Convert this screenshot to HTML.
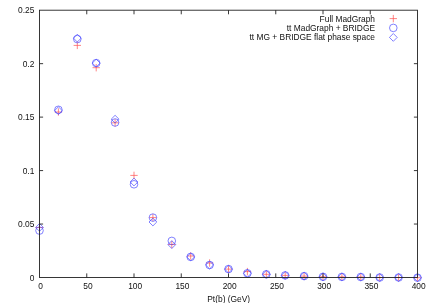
<!DOCTYPE html><html><head><meta charset="utf-8"><style>html,body{margin:0;padding:0;background:#fff;overflow:hidden}svg{display:block;position:absolute;left:0;top:0}text{font-family:"Liberation Sans",sans-serif;font-size:8.4px;fill:#111}</style></head><body>
<svg width="432" height="303" viewBox="0 0 432 303">
<rect width="432" height="303" fill="#fff"/>
<defs><filter id="tb" x="-5%" y="-5%" width="110%" height="110%"><feGaussianBlur stdDeviation="0.3"/></filter></defs><g filter="url(#tb)">
<text x="40.70" y="289.1" text-anchor="middle">0</text>
<text x="87.95" y="289.1" text-anchor="middle">50</text>
<text x="135.20" y="289.1" text-anchor="middle">100</text>
<text x="182.45" y="289.1" text-anchor="middle">150</text>
<text x="229.70" y="289.1" text-anchor="middle">200</text>
<text x="276.95" y="289.1" text-anchor="middle">250</text>
<text x="324.20" y="289.1" text-anchor="middle">300</text>
<text x="371.45" y="289.1" text-anchor="middle">350</text>
<text x="418.70" y="289.1" text-anchor="middle">400</text>
<text x="34.3" y="280.50" text-anchor="end">0</text>
<text x="34.3" y="227.04" text-anchor="end">0.05</text>
<text x="34.3" y="173.58" text-anchor="end">0.1</text>
<text x="34.3" y="120.12" text-anchor="end">0.15</text>
<text x="34.3" y="66.66" text-anchor="end">0.2</text>
<text x="34.3" y="13.20" text-anchor="end">0.25</text>
<text x="228.7" y="302.3" text-anchor="middle">Pt(b) (GeV)</text>
<text x="375" y="21.5" text-anchor="end">Full MadGraph</text>
<text x="375" y="30.6" text-anchor="end">tt MadGraph + BRIDGE</text>
<text x="375" y="39.9" text-anchor="end">tt MG + BRIDGE flat phase space</text>
</g>
<path d="M389.60 18.60h7.4M393.30 14.90v7.4M35.80 227.50h7.4M39.50 223.80v7.4M54.70 112.00h7.4M58.40 108.30v7.4M73.60 45.40h7.4M77.30 41.70v7.4M92.50 67.70h7.4M96.20 64.00v7.4M111.40 122.80h7.4M115.10 119.10v7.4M130.30 175.40h7.4M134.00 171.70v7.4M149.20 217.60h7.4M152.90 213.90v7.4M168.10 244.50h7.4M171.80 240.80v7.4M187.00 256.00h7.4M190.70 252.30v7.4M205.90 263.00h7.4M209.60 259.30v7.4M224.80 269.10h7.4M228.50 265.40v7.4M243.70 271.60h7.4M247.40 267.90v7.4M262.60 274.30h7.4M266.30 270.60v7.4M281.50 275.40h7.4M285.20 271.70v7.4M300.40 276.10h7.4M304.10 272.40v7.4M319.30 276.80h7.4M323.00 273.10v7.4M338.20 276.90h7.4M341.90 273.20v7.4M357.10 277.00h7.4M360.80 273.30v7.4M376.00 277.50h7.4M379.70 273.80v7.4M394.90 277.50h7.4M398.60 273.80v7.4M413.80 277.70h7.4M417.50 274.00v7.4" stroke="#ff5050" stroke-width="0.7" fill="none"/>
<circle cx="393.30" cy="27.90" r="3.8" stroke="#4c4cff" stroke-width="0.7" fill="none"/>
<circle cx="39.50" cy="230.60" r="3.8" stroke="#4c4cff" stroke-width="0.7" fill="none"/>
<circle cx="58.40" cy="109.80" r="3.8" stroke="#4c4cff" stroke-width="0.7" fill="none"/>
<circle cx="77.30" cy="39.10" r="3.8" stroke="#4c4cff" stroke-width="0.7" fill="none"/>
<circle cx="96.20" cy="63.10" r="3.8" stroke="#4c4cff" stroke-width="0.7" fill="none"/>
<circle cx="115.10" cy="122.50" r="3.8" stroke="#4c4cff" stroke-width="0.7" fill="none"/>
<circle cx="134.00" cy="184.30" r="3.8" stroke="#4c4cff" stroke-width="0.7" fill="none"/>
<circle cx="152.90" cy="217.60" r="3.8" stroke="#4c4cff" stroke-width="0.7" fill="none"/>
<circle cx="171.80" cy="240.90" r="3.8" stroke="#4c4cff" stroke-width="0.7" fill="none"/>
<circle cx="190.70" cy="256.90" r="3.8" stroke="#4c4cff" stroke-width="0.7" fill="none"/>
<circle cx="209.60" cy="265.00" r="3.8" stroke="#4c4cff" stroke-width="0.7" fill="none"/>
<circle cx="228.50" cy="269.10" r="3.8" stroke="#4c4cff" stroke-width="0.7" fill="none"/>
<circle cx="247.40" cy="273.30" r="3.8" stroke="#4c4cff" stroke-width="0.7" fill="none"/>
<circle cx="266.30" cy="274.30" r="3.8" stroke="#4c4cff" stroke-width="0.7" fill="none"/>
<circle cx="285.20" cy="275.40" r="3.8" stroke="#4c4cff" stroke-width="0.7" fill="none"/>
<circle cx="304.10" cy="276.10" r="3.8" stroke="#4c4cff" stroke-width="0.7" fill="none"/>
<circle cx="323.00" cy="276.80" r="3.8" stroke="#4c4cff" stroke-width="0.7" fill="none"/>
<circle cx="341.90" cy="276.90" r="3.8" stroke="#4c4cff" stroke-width="0.7" fill="none"/>
<circle cx="360.80" cy="277.00" r="3.8" stroke="#4c4cff" stroke-width="0.7" fill="none"/>
<circle cx="379.70" cy="277.50" r="3.8" stroke="#4c4cff" stroke-width="0.7" fill="none"/>
<circle cx="398.60" cy="277.50" r="3.8" stroke="#4c4cff" stroke-width="0.7" fill="none"/>
<circle cx="417.50" cy="277.70" r="3.8" stroke="#4c4cff" stroke-width="0.7" fill="none"/>
<path d="M389.40 37.40L393.30 33.50L397.20 37.40L393.30 41.30ZM35.60 227.40L39.50 223.50L43.40 227.40L39.50 231.30ZM54.50 110.70L58.40 106.80L62.30 110.70L58.40 114.60ZM73.40 38.10L77.30 34.20L81.20 38.10L77.30 42.00ZM92.30 63.10L96.20 59.20L100.10 63.10L96.20 67.00ZM111.20 119.20L115.10 115.30L119.00 119.20L115.10 123.10ZM130.10 182.00L134.00 178.10L137.90 182.00L134.00 185.90ZM149.00 222.00L152.90 218.10L156.80 222.00L152.90 225.90ZM167.90 244.60L171.80 240.70L175.70 244.60L171.80 248.50ZM186.80 256.90L190.70 253.00L194.60 256.90L190.70 260.80ZM205.70 265.00L209.60 261.10L213.50 265.00L209.60 268.90ZM224.60 269.10L228.50 265.20L232.40 269.10L228.50 273.00ZM243.50 273.30L247.40 269.40L251.30 273.30L247.40 277.20ZM262.40 274.30L266.30 270.40L270.20 274.30L266.30 278.20ZM281.30 275.40L285.20 271.50L289.10 275.40L285.20 279.30ZM300.20 276.10L304.10 272.20L308.00 276.10L304.10 280.00ZM319.10 276.80L323.00 272.90L326.90 276.80L323.00 280.70ZM338.00 276.90L341.90 273.00L345.80 276.90L341.90 280.80ZM356.90 277.00L360.80 273.10L364.70 277.00L360.80 280.90ZM375.80 277.50L379.70 273.60L383.60 277.50L379.70 281.40ZM394.70 277.50L398.60 273.60L402.50 277.50L398.60 281.40ZM413.60 277.70L417.50 273.80L421.40 277.70L417.50 281.60Z" stroke="#4c4cff" stroke-width="0.7" fill="none"/>
<rect x="39.5" y="10.2" width="378.0" height="267.3" fill="none" stroke="#222" stroke-width="0.9"/>
<path d="M86.75 277.5v-4.1M86.75 10.2v4.1M134.00 277.5v-4.1M134.00 10.2v4.1M181.25 277.5v-4.1M181.25 10.2v4.1M228.50 277.5v-4.1M228.50 10.2v4.1M275.75 277.5v-4.1M275.75 10.2v4.1M323.00 277.5v-4.1M323.00 10.2v4.1M370.25 277.5v-4.1M370.25 10.2v4.1M39.5 224.04h3.6M417.5 224.04h-3.6M39.5 170.58h3.6M417.5 170.58h-3.6M39.5 117.12h3.6M417.5 117.12h-3.6M39.5 63.66h3.6M417.5 63.66h-3.6" stroke="#222" stroke-width="0.9" fill="none"/>
</svg></body></html>
